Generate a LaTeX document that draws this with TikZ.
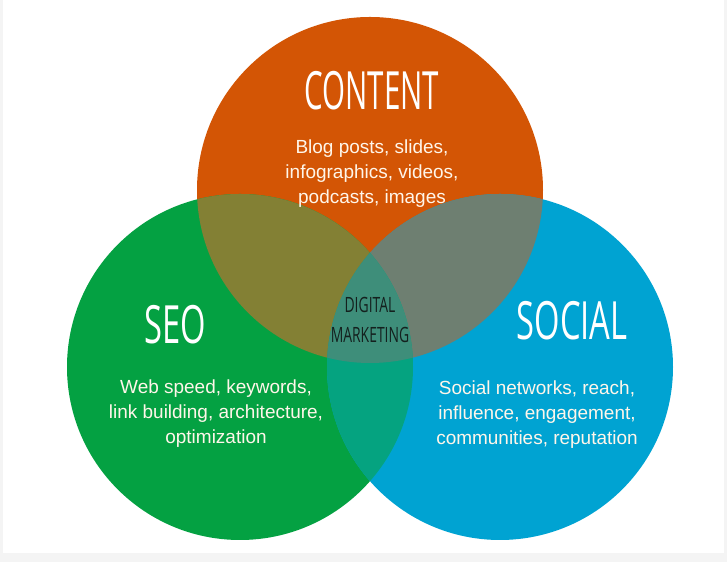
\documentclass[tikz,border=0pt]{standalone}
\usepackage{fontspec}
\setmainfont{Liberation Sans}
\newfontfamily\headfont{Open Sans}
\usepackage{tikz}
\usepackage{xcolor}

\definecolor{contentc}{RGB}{211,85,5}
\definecolor{seoc}{RGB}{4,161,66}
\definecolor{socialc}{RGB}{0,163,210}
\definecolor{contseo}{RGB}{131,128,52}
\definecolor{contsoc}{RGB}{110,127,113}
\definecolor{seosoc}{RGB}{5,163,128}
\definecolor{allc}{RGB}{62,142,122}
\definecolor{txtc}{RGB}{255,246,234}
\definecolor{framec}{RGB}{244,244,244}
\definecolor{dmtxt}{RGB}{20,32,30}
\newcommand{\narrow}[2][0.6]{\scalebox{#1}[1]{#2}}

\begin{document}
\begin{tikzpicture}[line cap=round,
  heading/.style={text=white,font=\headfont\fontsize{30}{30}\selectfont},
  body/.style={text=txtc,align=center,font=\fontsize{10.8}{14.2}\selectfont}]
\fill[framec] (0,0) rectangle (14.54,11.24);
\fill[white] (0.06,0.18) rectangle (14.48,11.24);
% circles
\fill[contentc] (7.40,7.44) circle (3.46);
\fill[seoc] (4.80,3.90) circle (3.46);
\fill[socialc] (10.00,3.90) circle (3.46);
% pairwise overlaps
\begin{scope}
\clip (7.40,7.44) circle (3.46);
\fill[contseo] (4.80,3.90) circle (3.46);
\fill[contsoc] (10.00,3.90) circle (3.46);
\end{scope}
\begin{scope}
\clip (4.80,3.90) circle (3.46);
\fill[seosoc] (10.00,3.90) circle (3.46);
\clip (10.00,3.90) circle (3.46);
\fill[allc] (7.40,7.44) circle (3.46);
\end{scope}
% labels
\node[heading] (content) at (7.44,9.42) {\narrow[0.56]{CONTENT}};
\node[body] (contentb) at (7.44,7.76) {Blog posts, slides,\\infographics, videos,\\podcasts, images};
\node[heading] (seo) at (3.50,4.74) {\narrow[0.62]{SEO}};
\node[body] (seob) at (4.32,2.96) {Web speed, keywords,\\link building, architecture,\\optimization};
\node[heading] (social) at (11.44,4.82) {\narrow[0.62]{SOCIAL}};
\node[body] (socialb) at (10.74,2.94) {Social networks, reach,\\influence, engagement,\\communities, reputation};
\node[align=center,text=dmtxt,font=\headfont\fontsize{12}{17}\selectfont] (dm) at (7.40,4.84)
  {\narrow[0.66]{DIGITAL}\\\narrow[0.66]{MARKETING}};
\end{tikzpicture}
\end{document}
